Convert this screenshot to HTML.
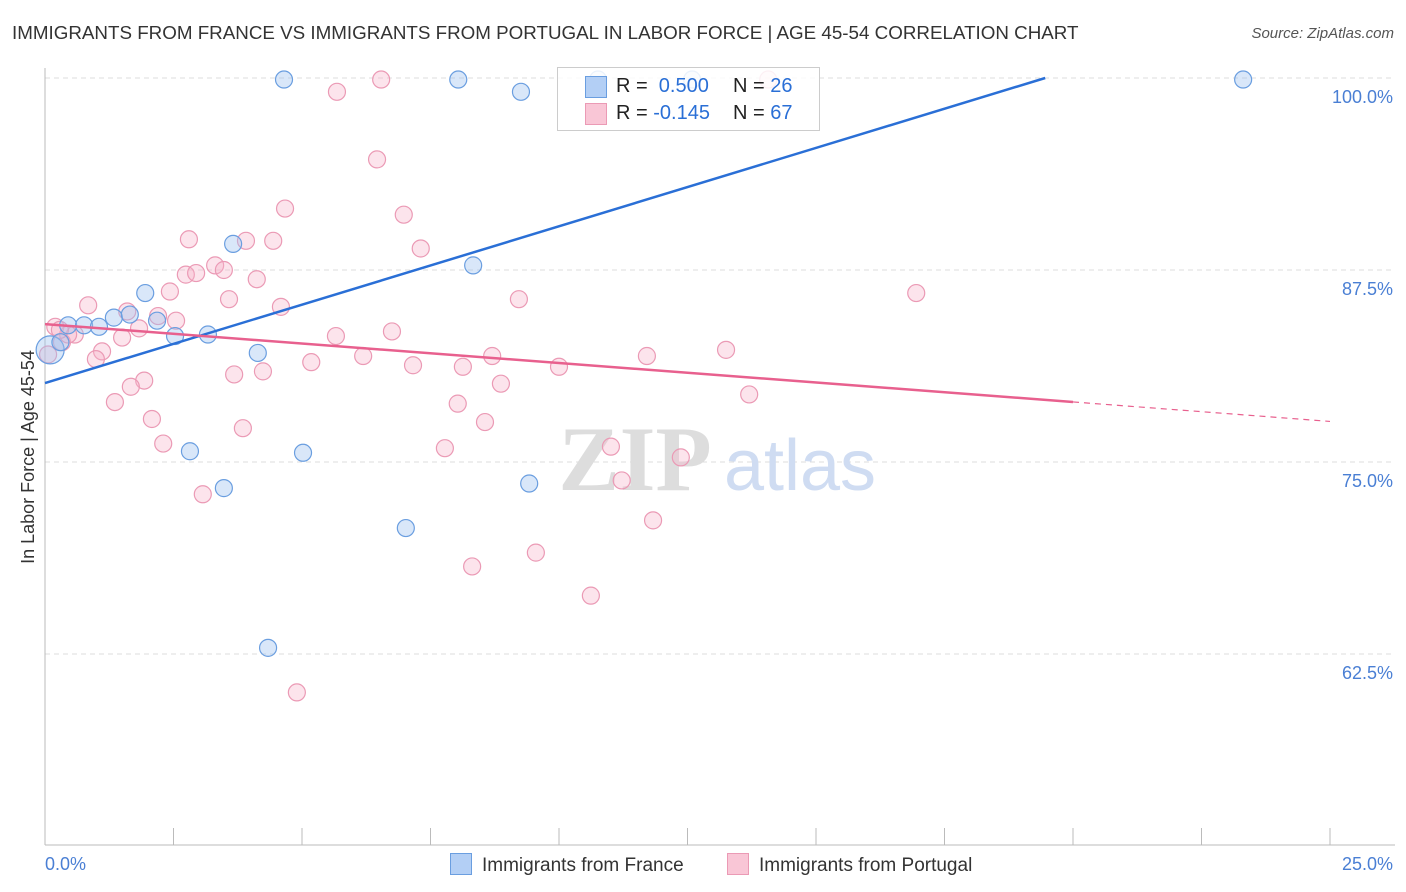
<!DOCTYPE html>
<html><head><meta charset="utf-8">
<style>
body{margin:0;background:#fff;font-family:"Liberation Sans",sans-serif;}
#wrap{position:relative;width:1406px;height:892px;overflow:hidden;}
.t{position:absolute;white-space:nowrap;}
</style></head>
<body>
<div id="wrap">
<div class="t" style="left:12px;top:22px;font-size:18.8px;color:#333;">IMMIGRANTS FROM FRANCE VS IMMIGRANTS FROM PORTUGAL IN LABOR FORCE | AGE 45-54 CORRELATION CHART</div>
<div class="t" style="right:12px;top:25px;font-size:15px;color:#555;font-style:italic;">Source: ZipAtlas.com</div>
<svg id="svg" width="1406" height="892" style="position:absolute;left:0;top:0"></svg>
</div>
<script>
const blueX=[4.65,8.04,9.26,23.31,3.66,8.33,1.95,1.34,1.65,2.18,0.45,0.76,1.05,2.53,3.17,4.14,0.1,2.82,5.02,3.48,9.42,7.02,4.34,10.76,12.59,0.3];
const blueY=[99.9,99.9,99.1,99.9,89.2,87.8,86.0,84.4,84.6,84.2,83.9,83.9,83.8,83.2,83.3,82.1,82.3,75.7,75.6,73.3,73.6,70.7,62.9,99.9,99.9,82.8];
const pinkX=[5.68,6.54,14.07,6.46,4.67,6.98,2.80,3.91,4.44,7.31,3.31,3.48,2.74,2.94,4.12,2.43,0.84,3.58,4.59,9.22,16.95,1.60,2.20,2.55,1.83,0.2,0.58,1.50,5.66,6.75,0.33,1.11,6.19,8.70,11.71,13.25,0.99,5.18,7.16,8.13,10.0,4.24,3.68,1.93,1.67,8.87,1.36,8.03,13.70,2.08,8.56,3.85,2.30,7.78,11.01,12.37,11.22,3.07,11.83,9.55,8.31,10.62,4.90,0.06,0.45,0.29];
const pinkY=[99.1,99.9,99.9,94.7,91.5,91.1,89.5,89.4,89.4,88.9,87.8,87.5,87.2,87.3,86.9,86.1,85.2,85.6,85.1,85.6,86.0,84.8,84.5,84.2,83.7,83.8,83.3,83.1,83.2,83.5,82.8,82.2,81.9,81.9,81.9,82.3,81.7,81.5,81.3,81.2,81.2,80.9,80.7,80.3,79.9,80.1,78.9,78.8,79.4,77.8,77.6,77.2,76.2,75.9,76.0,75.3,73.8,72.9,71.2,69.1,68.2,66.3,60.0,82.0,83.3,83.6];
const blueFit=[80.14,1.0206];
const pinkFit=[83.98,-0.2535];
const yTicks=[100,87.5,75,62.5];
const xTickLabels=["0.0%","25.0%"];
const svg=document.getElementById('svg');const NS='http://www.w3.org/2000/svg';
const X=v=>45+v/25*1285, Y=v=>78+(100-v)*15.36;
function mk(t,a,name){const e=document.createElementNS(NS,t);for(const k in a)e.setAttribute(k,a[k]);


svg.appendChild(e);return e;}
yTicks.forEach(v=>{mk('line',{x1:45,x2:1395,y1:Y(v),y2:Y(v),stroke:'#ddd','stroke-dasharray':'5,4'},'gridline');
const t=mk('text',{x:1393,y:Y(v)+25,'text-anchor':'end','font-size':18,fill:'#4a7fd4','font-family':'Liberation Sans'},'y-tick-label');t.textContent=v.toFixed(1)+'%';});
mk('line',{x1:45,x2:45,y1:68,y2:845,stroke:'#bbb'},'y-axis');
mk('line',{x1:45,x2:1395,y1:845,y2:845,stroke:'#bbb'},'x-axis');
for(let i=1;i<=10;i++){mk('line',{x1:X(i*2.5),x2:X(i*2.5),y1:828,y2:845,stroke:'#bbb'},'x-tick');}
const w1=mk('text',{x:635,y:490,'text-anchor':'middle','font-size':92,fill:'#ddd','font-family':'Liberation Serif','font-weight':'bold'},'watermark-zip');w1.textContent='ZIP';
const w2=mk('text',{x:800,y:490,'text-anchor':'middle','font-size':72,fill:'#cfdcf2','font-family':'Liberation Sans'},'watermark-atlas');w2.textContent='atlas';
pinkX.forEach((x,i)=>mk('circle',{cx:X(x),cy:Y(pinkY[i]),r:8.5,fill:'rgba(246,178,201,0.35)',stroke:'#eb9ab5','stroke-width':1.2},'pink-point'));
blueX.forEach((x,i)=>mk('circle',{cx:X(x),cy:Y(blueY[i]),r:i==16?14:8.5,fill:'rgba(160,195,240,0.4)',stroke:'#6a9ee0','stroke-width':1.2},'blue-point'));
const bx2=(100-blueFit[0])/blueFit[1];
mk('line',{x1:X(0),y1:Y(blueFit[0]),x2:X(bx2),y2:Y(100),stroke:'#2a6fd6','stroke-width':2.5},'blue-trend-line');
mk('line',{x1:X(0),y1:Y(pinkFit[0]),x2:X(20),y2:Y(pinkFit[0]+20*pinkFit[1]),stroke:'#e8608e','stroke-width':2.5},'pink-trend-line');
mk('line',{x1:X(20),y1:Y(pinkFit[0]+20*pinkFit[1]),x2:X(25),y2:Y(pinkFit[0]+25*pinkFit[1]),stroke:'#e8608e','stroke-width':1.2,'stroke-dasharray':'6,5'},'pink-trend-extension');
[0,1].forEach(i=>{const t=mk('text',{x:i?1393:45,y:870,'text-anchor':i?'end':'start','font-size':18,fill:'#4a7fd4','font-family':'Liberation Sans'},'x-tick-label');t.textContent=xTickLabels[i];});
const yl=mk('text',{x:0,y:0,'text-anchor':'middle','font-size':18,fill:'#333','font-family':'Liberation Sans',transform:'translate(34,457) rotate(-90)'},'y-axis-title');yl.textContent='In Labor Force | Age 45-54';
</script>
<div style="position:absolute;left:557px;top:67px;width:261px;height:62px;border:1px solid #ccc;background:rgba(255,255,255,0.85);font-size:20px;color:#222;">
 <div style="position:absolute;left:27px;top:8px;width:20px;height:20px;background:#b3cff5;border:1px solid #6a9ee0"></div>
 <div class="t" style="left:58px;top:7px">R = <span style="color:#2a6fd6">&nbsp;0.500</span></div>
 <div class="t" style="left:175px;top:7px">N = <span style="color:#2a6fd6">26</span></div>
 <div style="position:absolute;left:27px;top:35px;width:20px;height:20px;background:#f9c6d6;border:1px solid #eb9ab5"></div>
 <div class="t" style="left:58px;top:34px">R = <span style="color:#2a6fd6">-0.145</span></div>
 <div class="t" style="left:175px;top:34px">N = <span style="color:#2a6fd6">67</span></div>
</div>
<div style="position:absolute;left:450px;top:853px;font-size:19px;color:#333;">
 <span style="display:inline-block;width:20px;height:20px;background:#b3cff5;border:1px solid #6a9ee0;vertical-align:-4px;margin-right:10px"></span>Immigrants from France</div>
<div style="position:absolute;left:727px;top:853px;font-size:19px;color:#333;">
 <span style="display:inline-block;width:20px;height:20px;background:#f9c6d6;border:1px solid #eb9ab5;vertical-align:-4px;margin-right:10px"></span>Immigrants from Portugal</div>
</body></html>
